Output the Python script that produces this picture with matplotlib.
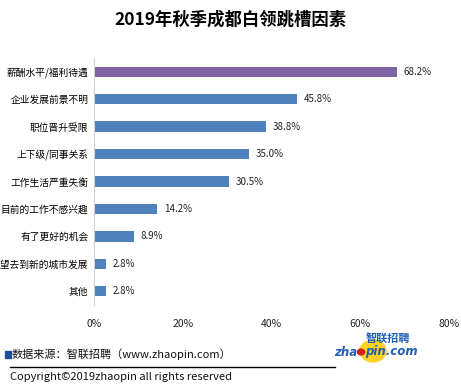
import numpy as np
import matplotlib.pyplot as plt
from matplotlib.patches import Circle, Rectangle
from matplotlib.lines import Line2D

plt.rcParams['font.family'] = ['Noto Sans CJK SC', 'DejaVu Sans']

# data
categories = ['薪酬水平/福利待遇', '企业发展前景不明', '职位晋升受限', '上下级/同事关系',
              '工作生活严重失衡', '目前的工作不感兴趣', '有了更好的机会', '希望去到新的城市发展', '其他']
values = [68.2, 45.8, 38.8, 35.0, 30.5, 14.2, 8.9, 2.8, 2.8]
xticks = [0, 20, 40, 60, 80]
xtick_labels = ['0%', '20%', '40%', '60%', '80%']

colors = ['#8064A2'] + ['#4F81BD'] * (len(values) - 1)

fig = plt.figure(figsize=(4.61, 3.87), dpi=100)
ax = fig.add_axes([0.204, 0.212, 0.770, 0.638])

y = np.arange(len(categories))
ax.barh(y, values, height=0.38, color=colors)
for yi, v in zip(y, values):
    ax.text(v + 1.5, yi, f'{v:.1f}%', va='center', ha='left', fontsize=7, color='#222222')

ax.set_ylim(len(categories) - 0.5, -0.5)
ax.set_xlim(0, 80)
ax.set_yticks(y)
ax.set_yticklabels(categories, fontsize=7)
ax.set_xticks(xticks)
ax.set_xticklabels(xtick_labels, fontsize=7.5, color='#222222')
ax.tick_params(axis='both', length=0)
ax.tick_params(axis='x', pad=10)
ax.tick_params(axis='y', pad=4)
for s in ['top', 'right', 'bottom']:
    ax.spines[s].set_visible(False)
ax.spines['left'].set_color('#d0d0d0')

fig.text(0.5, 0.948, '2019年秋季成都白领跳槽因素', ha='center', va='center',
         fontsize=12.5, fontweight='bold')

# footer
fig.patches.append(Rectangle((5 / 461, 1 - 358 / 387), 6 / 461, 7 / 387,
                             transform=fig.transFigure, color='#1F4E9E'))
fig.text(12 / 461, 1 - 354 / 387, '数据来源：智联招聘（www.zhaopin.com）', fontsize=8,
         va='center', ha='left', color='#111111')
fig.lines.append(Line2D([10 / 461, 335 / 461], [1 - 367 / 387, 1 - 367 / 387],
                        transform=fig.transFigure, color='black', lw=1))
fig.text(10 / 461, 1 - 377 / 387, 'Copyright©2019zhaopin all rights reserved', fontsize=8,
         va='center', ha='left', color='#111111')

# logo
fig.patches.append(Circle((373 / 461, 1 - 351 / 387), 13 / 461, transform=fig.transFigure,
                          color='#FFD21F', zorder=1))
fig.patches.append(Circle((361 / 461, 1 - 352 / 387), 3.5 / 461, transform=fig.transFigure,
                          color='#D0201A', zorder=4))
fig.text(357 / 461, 1 - 352 / 387, 'zha', fontsize=8.5, fontweight='bold',
         style='italic', color='#1F5FB5', va='center', ha='right', zorder=3,
         family='DejaVu Sans')
fig.text(365 / 461, 1 - 352 / 387, 'pin.com', fontsize=8.5, fontweight='bold',
         style='italic', color='#1F5FB5', va='center', ha='left', zorder=3,
         family='DejaVu Sans')
fig.text(366 / 461, 1 - 339 / 387, '智联招聘', fontsize=8, fontweight='bold',
         style='italic', color='#1F5FB5', va='center', ha='left', zorder=3)

fig.savefig('out.png', dpi=100)
